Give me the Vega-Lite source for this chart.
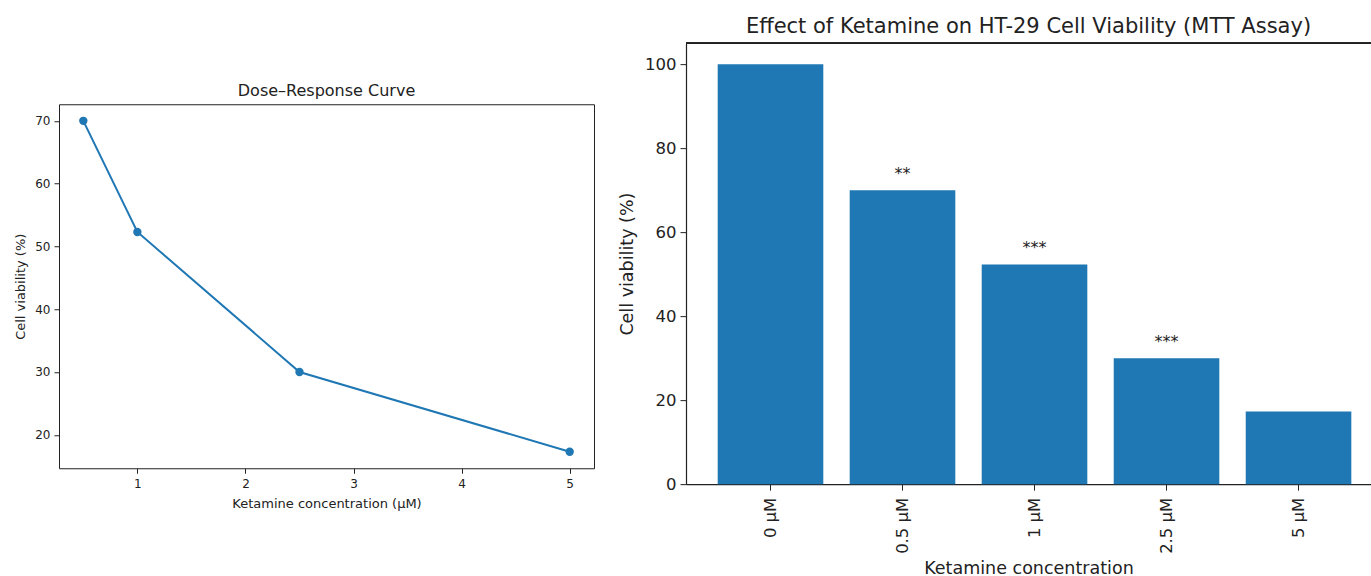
{
  "$schema": "https://vega.github.io/schema/vega-lite/v6.json",
  "background": "white",
  "padding": {"left": 14, "top": 16, "right": 0, "bottom": 0},
  "center": true,
  "spacing": 23,
  "config": {
    "font": "DejaVu Sans",
    "view": {"stroke": null},
    "axis": {
      "grid": false,
      "domainColor": "#222",
      "tickColor": "#222",
      "labelColor": "#222",
      "titleColor": "#222",
      "titleFontWeight": "normal",
      "labelFont": "DejaVu Sans",
      "titleFont": "DejaVu Sans"
    },
    "title": {"font": "DejaVu Sans", "fontWeight": "normal", "color": "#222"}
  },
  "hconcat": [
    {
      "width": 535,
      "height": 364,
      "view": {"stroke": "#222", "strokeWidth": 1},
      "title": {"text": "Dose–Response Curve", "fontSize": 16, "offset": 5},
      "data": {"values": [
        {"conc": 0.5, "viability": 70},
        {"conc": 1, "viability": 52.3},
        {"conc": 2.5, "viability": 30},
        {"conc": 5, "viability": 17.3}
      ]},
      "encoding": {
        "x": {"field": "conc", "type": "quantitative",
          "scale": {"domain": [0.275, 5.225], "nice": false, "zero": false},
          "axis": {"values": [1, 2, 3, 4, 5], "title": ["Ketamine concentration (µM)", ""], "titleLineHeight": 5, "labelFontSize": 12, "titleFontSize": 13, "tickSize": 5, "labelPadding": 5, "titlePadding": 8, "domain": false}},
        "y": {"field": "viability", "type": "quantitative",
          "scale": {"domain": [14.67, 72.64], "nice": false, "zero": false},
          "axis": {"values": [20, 30, 40, 50, 60, 70], "title": "Cell viability (%)", "labelFontSize": 12, "titleFontSize": 13, "tickSize": 5, "labelPadding": 4, "titlePadding": 7, "domain": false}}
      },
      "layer": [
        {"mark": {"type": "line", "color": "#1f77b4", "strokeWidth": 2}},
        {"mark": {"type": "point", "filled": true, "opacity": 1, "size": 70, "color": "#1f77b4"}}
      ]
    },
    {
      "width": 685,
      "height": 441,
      "title": {"text": "Effect of Ketamine on HT-29 Cell Viability (MTT Assay)", "fontSize": 21, "offset": 3},
      "data": {"values": [
        {"conc": "0 µM", "viability": 100, "sig": ""},
        {"conc": "0.5 µM", "viability": 70, "sig": "**"},
        {"conc": "1 µM", "viability": 52.3, "sig": "***"},
        {"conc": "2.5 µM", "viability": 30, "sig": "***"},
        {"conc": "5 µM", "viability": 17.3, "sig": ""}
      ]},
      "encoding": {
        "x": {"field": "conc", "type": "nominal", "sort": null,
          "scale": {"paddingInner": 0.2, "paddingOuter": 0.1946, "align": 0.617},
          "axis": {"title": "Ketamine concentration", "labelAngle": -90, "labelFontSize": 16.5, "titleFontSize": 17.5, "tickSize": 6, "labelPadding": 7, "titlePadding": 6, "domainWidth": 1.2}},
        "y": {"field": "viability", "type": "quantitative",
          "scale": {"domain": [0, 105], "nice": false},
          "axis": {"values": [0, 20, 40, 60, 80, 100], "title": "Cell viability (%)", "labelFontSize": 16.5, "titleFontSize": 17.5, "tickSize": 6, "labelPadding": 4, "titlePadding": 8, "domainWidth": 1.2}}
      },
      "layer": [
        {"mark": {"type": "bar", "color": "#1f77b4"}},
        {"mark": {"type": "text", "baseline": "bottom", "dy": -8, "fontSize": 16, "color": "#222"},
          "encoding": {"text": {"field": "sig"}}},
        {"mark": {"type": "rule", "color": "#222", "strokeWidth": 1.2},
          "encoding": {"y": {"datum": 105}, "x": null}}
      ]
    }
  ]
}
